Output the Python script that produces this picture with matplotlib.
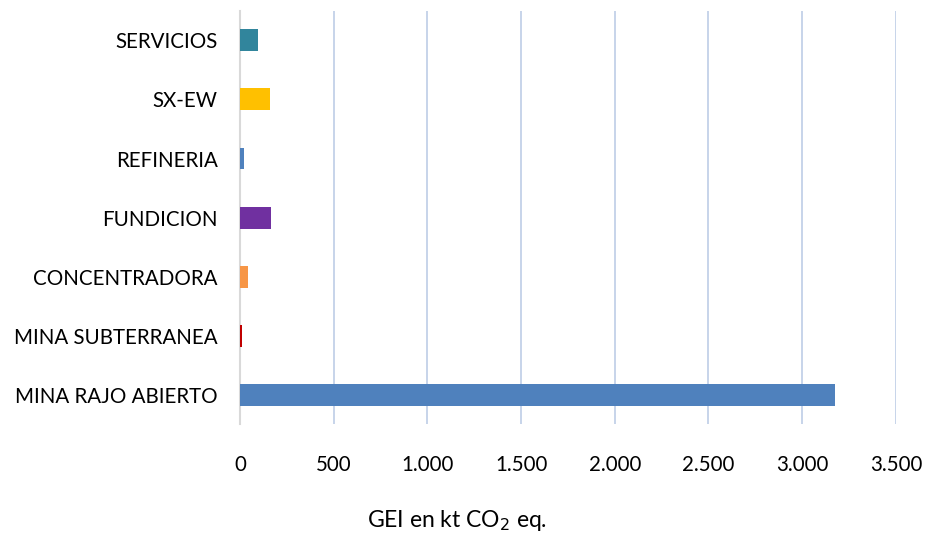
import matplotlib.pyplot as plt
from matplotlib.ticker import FuncFormatter

categories = ["MINA RAJO ABIERTO", "MINA SUBTERRANEA", "CONCENTRADORA",
              "FUNDICION", "REFINERIA", "SX-EW", "SERVICIOS"]
values = [3173, 9, 43, 166, 21, 160, 96]
colors = ["#4F81BD", "#C00000", "#F79646", "#7030A0", "#4F81BD", "#FFC000", "#31859C"]

plt.rcParams["font.family"] = ["Lato", "DejaVu Sans"]

fig = plt.figure(figsize=(9.25, 5.37), dpi=100)
ax = fig.add_axes([0.2595, 0.2095, 0.709, 0.7705])

y = range(len(categories))
ax.barh(y, values, height=0.37, color=colors, zorder=3)
ax.set_yticks(list(y))
ax.set_yticklabels(categories, fontsize=14.8, color="#000000")
ax.set_ylim(-0.5, len(categories) - 0.5)

ax.set_xlim(0, 3500)
ax.set_xticks(range(0, 3501, 500))
ax.xaxis.set_major_formatter(FuncFormatter(lambda v, p: f"{int(v):,}".replace(",", ".")))
ax.tick_params(axis="x", labelsize=14.8, length=0, pad=22)
ax.tick_params(axis="y", length=0, pad=16)
ax.grid(axis="x", color="#C3D1E8", linewidth=1.3, zorder=0)

for side in ["top", "right", "bottom"]:
    ax.spines[side].set_visible(False)
ax.spines["left"].set_color("#D9D9D9")
ax.spines["left"].set_linewidth(1.5)

fig.text(0.494, 0.018, "GEI en kt CO$_2$ eq.", ha="center", fontsize=16.5)

fig.savefig("out.png", dpi=100)
plt.close(fig)
